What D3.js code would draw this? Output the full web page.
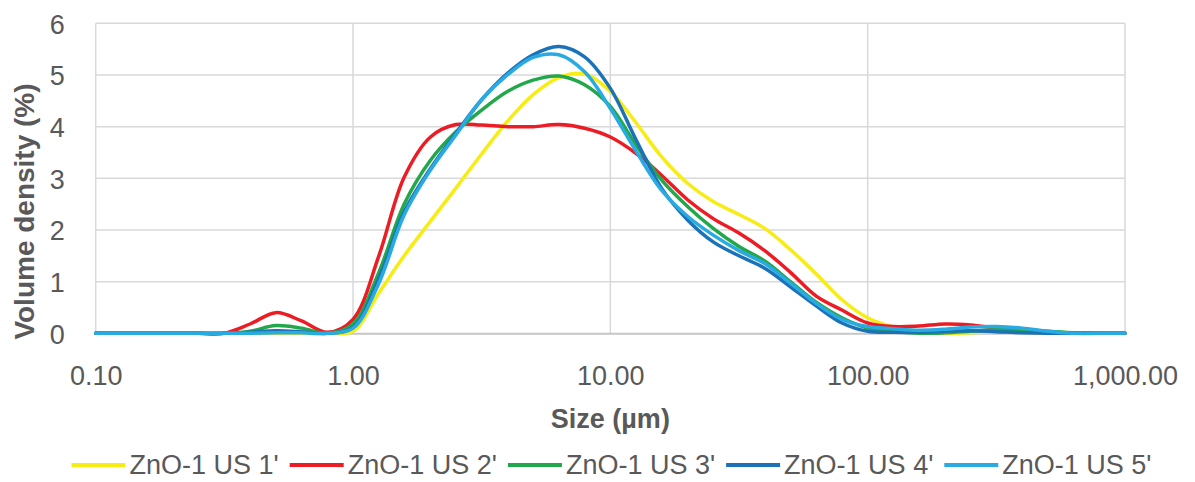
<!DOCTYPE html>
<html>
<head>
<meta charset="utf-8">
<script src="https://cdn.jsdelivr.net/npm/d3@7"></script>
<style>
  html, body { margin: 0; padding: 0; background: #ffffff; }
  svg { display: block; }
  text { font-family: "Liberation Sans", Arial, sans-serif; fill: #595959; }
</style>
</head>
<body>
<svg id="chart" width="1195" height="482"></svg>
<script>
// ---- data ----
const sizes = [0.1, 0.126, 0.158, 0.2, 0.251, 0.316, 0.398, 0.501, 0.631, 0.794,
  1.0, 1.26, 1.58, 2.0, 2.51, 3.16, 3.98, 5.01, 6.31, 7.94,
  10, 12.6, 15.8, 20, 25.1, 31.6, 39.8, 50.1, 63.1, 79.4,
  100, 126, 158, 200, 251, 316, 398, 501, 631, 794, 1000];

const us1 = [0, 0, 0, 0, 0, 0, 0, 0, 0, 0,
  0.04, 0.78, 1.5, 2.17, 2.81, 3.47, 4.1, 4.62, 4.95, 5.02,
  4.68, 4.07, 3.42, 2.9, 2.55, 2.3, 2.03, 1.62, 1.15, 0.65,
  0.3, 0.12, 0.04, 0.0, 0.01, 0.03, 0.02, 0, 0, 0, 0];
const us2 = [0, 0, 0, 0, 0, 0, 0.18, 0.4, 0.24, 0.02,
  0.27, 1.5, 3.02, 3.8, 4.04, 4.03, 4.0, 4.0, 4.04, 3.97,
  3.8, 3.48, 3.06, 2.58, 2.22, 1.94, 1.6, 1.18, 0.72, 0.45,
  0.2, 0.13, 0.14, 0.18, 0.16, 0.1, 0.05, 0.02, 0, 0, 0];
const us3 = [0, 0, 0, 0, 0, 0, 0.04, 0.15, 0.1, 0.0,
  0.18, 1.18, 2.5, 3.35, 3.9, 4.32, 4.68, 4.9, 4.98, 4.81,
  4.39, 3.64, 2.97, 2.45, 2.03, 1.68, 1.4, 1.0, 0.6, 0.3,
  0.1, 0.04, 0.0, 0.01, 0.04, 0.07, 0.07, 0.04, 0.01, 0, 0];
const us4 = [0, 0, 0, 0, 0, 0, 0.02, 0.05, 0.03, 0.0,
  0.12, 1.06, 2.35, 3.19, 3.87, 4.52, 5.03, 5.39, 5.55, 5.35,
  4.74, 3.74, 2.81, 2.19, 1.77, 1.5, 1.26, 0.9, 0.53, 0.2,
  0.04, 0.02, 0.02, 0.04, 0.05, 0.03, 0.01, 0, 0, 0, 0];
const us5 = [0, 0, 0, 0, 0, 0, 0, 0.01, 0.01, 0.0,
  0.1, 0.97, 2.29, 3.16, 3.84, 4.52, 5.0, 5.34, 5.39, 5.06,
  4.35, 3.52, 2.77, 2.26, 1.9, 1.6, 1.35, 0.97, 0.58, 0.27,
  0.13, 0.09, 0.06, 0.08, 0.12, 0.13, 0.1, 0.04, 0, 0, 0];

const seriesNames = ["ZnO-1 US 1'", "ZnO-1 US 2'", "ZnO-1 US 3'", "ZnO-1 US 4'", "ZnO-1 US 5'"];
const seriesValues = [us1, us2, us3, us4, us5];
const seriesColors = ["#f7ec13", "#ed1c24", "#22a84a", "#1c72b8", "#29abe2"];

const xTicks = [0.1, 1, 10, 100, 1000];
const yTicks = [0, 1, 2, 3, 4, 5, 6];
const xTitle = "Size (µm)";
const yTitle = "Volume density (%)";

// ---- layout ----
const svg = d3.select("#chart");
const pLeft = 95.7, pRight = 1125, pTop = 23.3, pBottom = 333.3;

const x = d3.scaleLog().domain([0.1, 1000]).range([pLeft, pRight]);
const y = d3.scaleLinear().domain([0, 6]).range([pBottom, pTop]);

const fmt = d3.format(",.2f");

// gridlines
const grid = svg.append("g");
grid.selectAll("line.h").data(yTicks.filter(d => d > 0)).join("line")
  .attr("class", "h")
  .attr("x1", pLeft).attr("x2", pRight)
  .attr("y1", d => y(d)).attr("y2", d => y(d))
  .attr("stroke", "#d9d9d9").attr("stroke-width", 1.5);
grid.selectAll("line.v").data(xTicks).join("line")
  .attr("class", "v")
  .attr("x1", d => x(d)).attr("x2", d => x(d))
  .attr("y1", pTop).attr("y2", pBottom)
  .attr("stroke", "#d9d9d9").attr("stroke-width", 1.5);

// x axis (baseline)
const xAxis = d3.axisBottom(x).tickValues(xTicks).tickFormat(fmt).tickSize(0).tickPadding(0);
const gx = svg.append("g").attr("transform", `translate(0,${pBottom})`).call(xAxis);
gx.select(".domain").attr("stroke", "#c6c6c6").attr("stroke-width", 2);
gx.selectAll("text").attr("font-size", 27).attr("fill", "#595959")
  .attr("font-family", "Liberation Sans, Arial, sans-serif")
  .attr("y", 52).attr("dy", 0);

// y axis
const yAxis = d3.axisLeft(y).tickValues(yTicks).tickFormat(d3.format("d")).tickSize(0).tickPadding(0);
const gy = svg.append("g").attr("transform", `translate(${pLeft},0)`).call(yAxis);
gy.select(".domain").remove();
gy.selectAll("text").attr("font-size", 27).attr("fill", "#595959")
  .attr("font-family", "Liberation Sans, Arial, sans-serif")
  .attr("x", -31).attr("dy", "0.36em");

// series
const line = d3.line()
  .x((d, i) => x(sizes[i]))
  .y(d => y(d))
  .curve(d3.curveCatmullRom.alpha(0.5));

svg.append("g").selectAll("path").data(seriesValues).join("path")
  .attr("d", d => line(d))
  .attr("fill", "none")
  .attr("stroke", (d, i) => seriesColors[i])
  .attr("stroke-width", 3.5)
  .attr("stroke-linejoin", "round")
  .attr("stroke-linecap", "round");

// titles
svg.append("text")
  .attr("x", (pLeft + pRight) / 2).attr("y", 428)
  .attr("text-anchor", "middle")
  .attr("font-size", 27).attr("font-weight", "bold")
  .text(xTitle);

svg.append("text")
  .attr("transform", `translate(34,${(83 + 340) / 2}) rotate(-90)`)
  .attr("text-anchor", "middle")
  .attr("font-size", 28).attr("font-weight", "bold")
  .text(yTitle);

// legend
const lg = svg.append("g");
const items = lg.selectAll("g").data(seriesNames).join("g");
items.append("line")
  .attr("x1", 0).attr("x2", 54).attr("y1", -9).attr("y2", -9)
  .attr("stroke", (d, i) => seriesColors[i]).attr("stroke-width", 4);
items.append("text")
  .attr("x", 58).attr("y", 0)
  .attr("font-size", 27)
  .text(d => d);
const widths = [];
items.each(function() { widths.push(this.getBBox().width); });
const gap = 11;
const total = d3.sum(widths) + gap * (widths.length - 1);
const start = 611.5 - total / 2;
items.attr("transform", (d, i) => {
  const tx = start + d3.sum(widths.slice(0, i)) + gap * i;
  return `translate(${tx},474)`;
});
</script>
</body>
</html>
